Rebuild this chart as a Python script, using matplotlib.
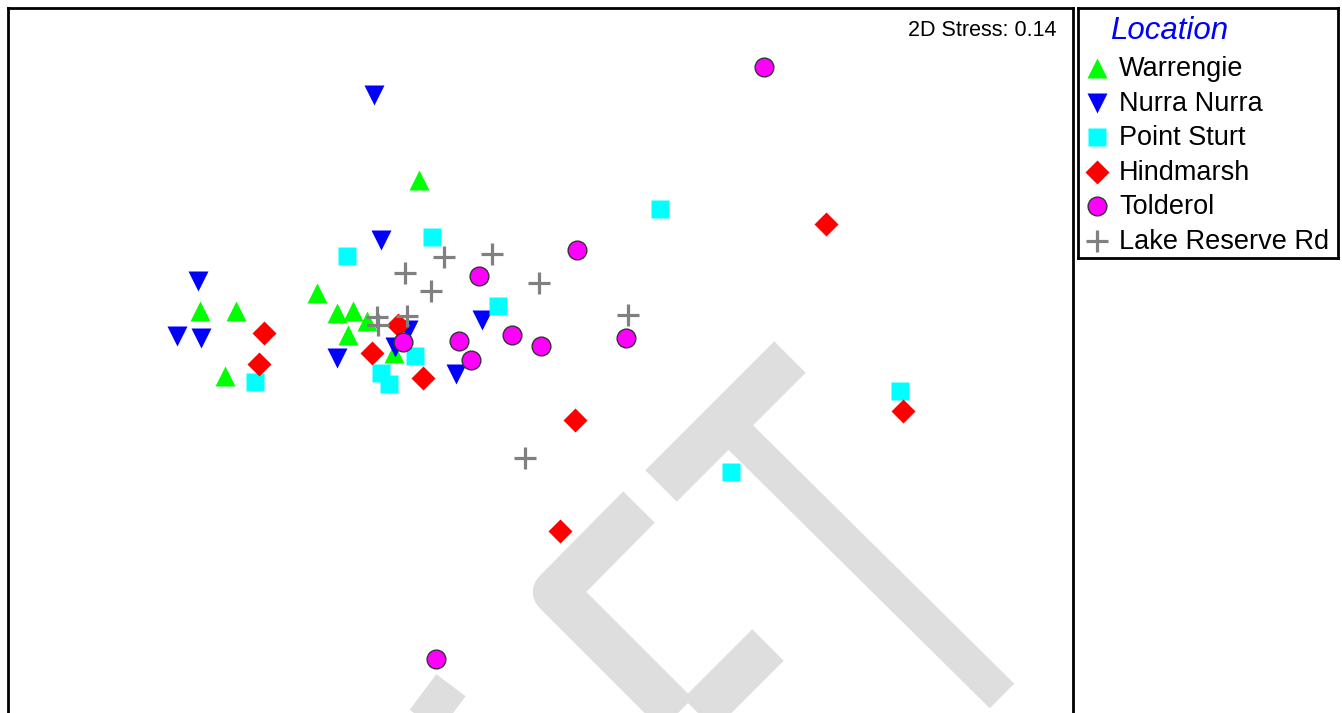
import matplotlib.pyplot as plt

plt.rcParams['font.family'] = ['Liberation Sans', 'DejaVu Sans']

W, H = 1342, 713

# NMDS scores (screen units, y grows downward)
warrengie_x = [419, 200, 236, 225, 317, 337, 353, 348, 367, 394]
warrengie_y = [180, 311, 311, 376, 293, 313, 311, 335, 321, 353]
nurra_x = [374, 381, 198, 177, 201, 337, 408, 395, 482, 456]
nurra_y = [95, 240, 281, 336, 338, 358, 330, 347, 320, 374]
sturt_x = [432, 347, 660, 498, 255, 415, 381, 389, 900, 731]
sturt_y = [237, 256, 209, 306, 382, 356, 373, 384, 391, 472]
hind_x = [264, 259, 398, 372, 423, 826, 575, 903, 560]
hind_y = [333, 364, 325, 353, 378, 224, 420, 411, 531]
told_x = [764, 577, 479, 459, 512, 541, 471, 626, 403, 436]
told_y = [67, 250, 276, 341, 335, 346, 360, 338, 342, 659]
lake_x = [444, 492, 405, 431, 539, 377, 378, 407, 628, 525]
lake_y = [257, 254, 273, 291, 283, 317, 325, 316, 315, 458]

names = ['Warrengie', 'Nurra Nurra', 'Point Sturt', 'Hindmarsh', 'Tolderol', 'Lake Reserve Rd']
xs = [warrengie_x, nurra_x, sturt_x, hind_x, told_x, lake_x]
ys = [warrengie_y, nurra_y, sturt_y, hind_y, told_y, lake_y]
markers = ['^', 'v', 's', 'D', 'o', '+']
colors = ['#00ff00', '#0000ff', '#00ffff', '#ff0000', '#ff00ff', '#808080']
sizes = [15, 15, 13, 12, 13.5, 16]
stress = '2D Stress: 0.14'

fig = plt.figure(figsize=(W / 100, H / 100), dpi=100)
ax = fig.add_axes([8 / W, -10 / H, 1065 / W, 715 / H])
ax.set_xlim(8, 1073)
ax.set_ylim(723, 8)
ax.set_xticks([])
ax.set_yticks([])
for s in ['left', 'top', 'right']:
    ax.spines[s].set_linewidth(2)
ax.spines['bottom'].set_visible(False)

# grey watermark behind the points
wm = dict(color='#dedede', lw=32, solid_capstyle='butt', solid_joinstyle='round', zorder=0)
ax.plot([661, 790], [486, 357], **wm)
ax.plot([725, 1002], [422, 696], color='#dedede', lw=25, solid_capstyle='butt', zorder=0)
ax.plot([639, 555, 705], [507, 592, 742], **wm)
ax.plot([768, 673], [645, 740], **wm)
ax.plot([423, 503], [692, 752], **wm)

def draw(a, x, y, i):
    kw = dict(ls='none', marker=markers[i], ms=sizes[i], color=colors[i], zorder=3)
    if markers[i] == 'o':
        kw.update(mec='#333333', mew=1)
    elif markers[i] == '+':
        kw.update(mew=2.3)
    else:
        kw.update(mec='none')
    a.plot(x, y, **kw)

for i in range(len(names)):
    draw(ax, xs[i], ys[i], i)

ax.text(1057, 30, stress, ha='right', va='center', fontsize=15.5)

# legend box
lg = fig.add_axes([1078 / W, 1 - 258 / H, 260 / W, 250 / H])
lg.set_xlim(1078, 1338)
lg.set_ylim(258, 8)
lg.set_xticks([])
lg.set_yticks([])
for s in lg.spines.values():
    s.set_linewidth(2)
lg.text(1110, 31, 'Location', color='#0000ff', style='italic', fontsize=22.5, va='center')
for i, n in enumerate(names):
    yy = 68 + i * 34.6
    draw(lg, [1097], [yy], i)
    lg.text(1119, yy + 1, n, fontsize=19.5, va='center')

fig.savefig('out.png', dpi=100)
